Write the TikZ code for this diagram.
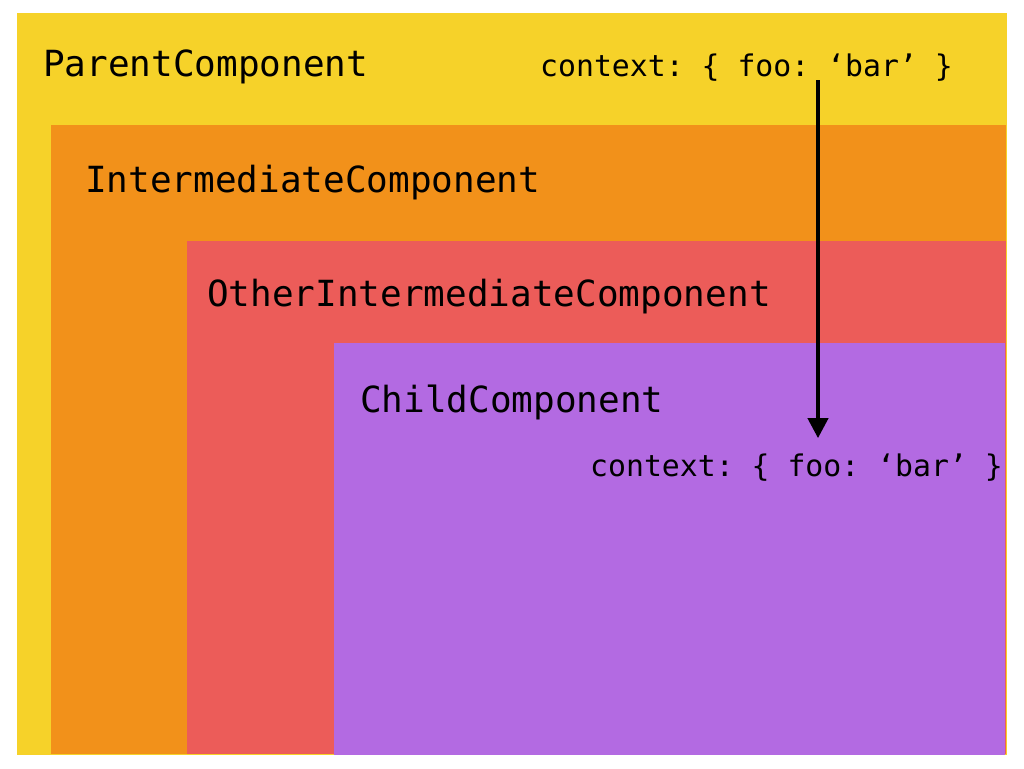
\documentclass[tikz,border=0pt]{standalone}
\usepackage{fontspec}
\setmonofont{DejaVu Sans Mono}
\usetikzlibrary{arrows.meta}
\definecolor{parentYellow}{RGB}{246,210,41}
\definecolor{midOrange}{RGB}{242,145,26}
\definecolor{otherRed}{RGB}{236,92,89}
\definecolor{childPurple}{RGB}{179,106,226}

\begin{document}
\begin{tikzpicture}[
    x=1pt, y=-1pt,
    title/.style={anchor=base west, inner sep=0pt, font=\ttfamily\fontsize{36}{40}\selectfont},
    ctx/.style={anchor=base west, inner sep=0pt, font=\ttfamily\fontsize{29.8}{34}\selectfont},
    flow/.style={-{Triangle[length=20pt, width=20pt]}, line width=4pt}
]
\useasboundingbox (0,0) rectangle (1024,768);

% Nested component boxes
\fill[parentYellow] (17,13) rectangle (1007,755);
\fill[midOrange] (51,125) rectangle (1006,754);
\fill[otherRed] (187,241) rectangle (1006,754);
\fill[childPurple] (334,343) rectangle (1005,755);

% Component names
\node[title] (parent) at (43,76) {ParentComponent};
\node[title] (inter) at (85,192) {IntermediateComponent};
\node[title] (other) at (207,306) {OtherIntermediateComponent};
\node[title] (child) at (360,412) {ChildComponent};

% Context labels
\node[ctx] (ctxparent) at (540,76) {context: \{ foo: ‘bar’ \}};
\node[ctx] (ctxchild) at (590,476) {context: \{ foo: ‘bar’ \}};

% Context passed down
\coordinate (src) at (818,80);
\draw[flow, shorten >=15pt] (src) -- (src |- ctxchild.north);

\end{tikzpicture}
\end{document}
